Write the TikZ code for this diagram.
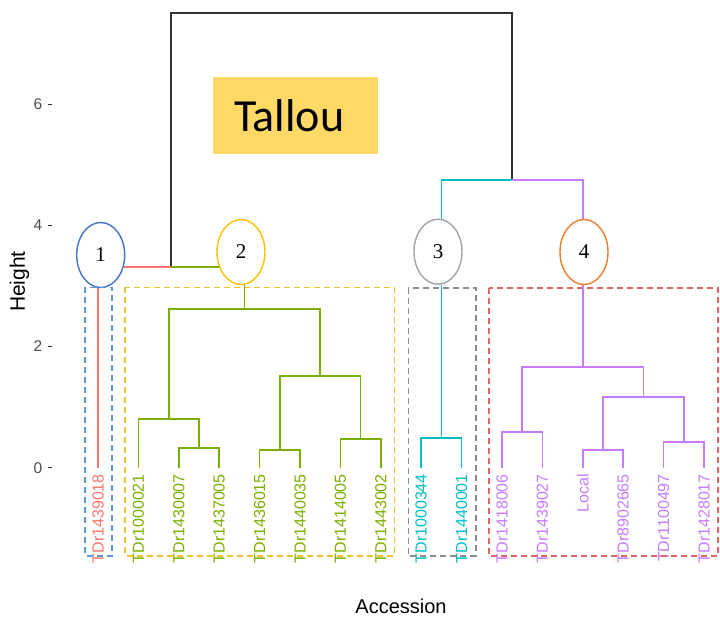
\documentclass[tikz,border=0pt]{standalone}
\usepackage{fontspec}
\setmainfont{Liberation Sans}
\newfontfamily\numfont{Liberation Serif}
\newfontfamily\boxfont{Carlito}
\usepackage{tikz}
\usetikzlibrary{calc,shapes.geometric}
\definecolor{cluA}{HTML}{F8766D}
\definecolor{cluB}{HTML}{7CAE00}
\definecolor{cluC}{HTML}{00BFC4}
\definecolor{cluD}{HTML}{C77CFF}
\definecolor{rootgray}{HTML}{333333}
\definecolor{axisgray}{HTML}{4D4D4D}
\definecolor{ringA}{HTML}{4472C4}
\definecolor{ringB}{HTML}{FFC000}
\definecolor{ringC}{HTML}{A5A5A5}
\definecolor{ringD}{HTML}{ED7D31}
\definecolor{frameA}{HTML}{5B9BD5}
\definecolor{frameB}{HTML}{F2C12E}
\definecolor{frameC}{HTML}{8C8C8C}
\definecolor{frameD}{HTML}{E06666}
\definecolor{tallouyel}{HTML}{FFD966}
\def\clunode{\node[ellipse,draw,text=black,line width=1.4pt,minimum width=48pt,minimum height=65pt,inner sep=0pt,font=\numfont\fontsize{21}{21}\selectfont]}
\def\leafnode{\node[rotate=90,anchor=east,inner xsep=6pt,inner ysep=0pt,font=\fontsize{16}{16}\selectfont]}
\def\drawframe{\draw[line width=1.6pt,dash pattern=on 6pt off 4pt]}
\def\drawbranch{\draw[line width=1.7pt]}

\begin{document}
\begin{tikzpicture}[x=1pt,y=-1pt,
  ticklab/.style={anchor=east,inner sep=0pt,text=axisgray,font=\fontsize{15.5}{15.5}\selectfont},
  tickmark/.style={line width=1.2pt,rootgray}]
\useasboundingbox (0,0) rectangle (720,616);

% title box
\node[fill=tallouyel,minimum width=165pt,minimum height=77.6pt,inner sep=0pt,
  text height=32.5pt,text depth=0pt,font=\boxfont\fontsize{46}{46}\selectfont]
  (tallou) at (295.2,115.5) {Tallou\hspace*{12pt}};

% y axis
\node[ticklab] (h0) at (42.5,467.7) {0};
\node[ticklab] (h2) at (42.5,346.5) {2};
\node[ticklab] (h4) at (42.5,225.3) {4};
\node[ticklab] (h6) at (42.5,104.1) {6};
\draw[tickmark] ([xshift=5pt]h0.east) -- ++(4.5,0);
\draw[tickmark] ([xshift=5pt]h2.east) -- ++(4.5,0);
\draw[tickmark] ([xshift=5pt]h4.east) -- ++(4.5,0);
\draw[tickmark] ([xshift=5pt]h6.east) -- ++(4.5,0);
\node[rotate=90,font=\fontsize{21}{21}\selectfont] (ylab) at (19.5,281.5) {Height};
\node[anchor=base,font=\fontsize{20}{20}\selectfont] (xlab) at (401,613) {Accession};

% leaves
\leafnode (l1) [text=cluA] at (98,468) {TDr1439018};
\leafnode (l2) [text=cluB] at (138.4,468) {TDr1000021};
\leafnode (l3) [text=cluB] at (178.8,468) {TDr1430007};
\leafnode (l4) [text=cluB] at (219.2,468) {TDr1437005};
\leafnode (l5) [text=cluB] at (259.6,468) {TDr1436015};
\leafnode (l6) [text=cluB] at (300,468) {TDr1440035};
\leafnode (l7) [text=cluB] at (340.4,468) {TDr1414005};
\leafnode (l8) [text=cluB] at (380.8,468) {TDr1443002};
\leafnode (l9) [text=cluC] at (421.2,468) {TDr1000344};
\leafnode (l10) [text=cluC] at (461.6,468) {TDr1440001};
\leafnode (l11) [text=cluD] at (502,468) {TDr1418006};
\leafnode (l12) [text=cluD] at (542.4,468) {TDr1439027};
\leafnode (l13) [text=cluD] at (582.8,468) {Local};
\leafnode (l14) [text=cluD] at (623.2,468) {TDr8902665};
\leafnode (l15) [text=cluD] at (663.6,468) {TDr1100497};
\leafnode (l16) [text=cluD] at (704,468) {TDr1428017};

% cluster rings
\clunode[draw=ringA] (c1) at (100.7,255) {1};
\clunode[draw=ringB] (c2) at (241,252) {2};
\clunode[draw=ringC] (c3) at (438,251.7) {3};
\clunode[draw=ringD] (c4) at (584,252) {4};

% group frames
\drawframe[frameA] (85,287.3) rectangle (112,555.7);
\drawframe[frameB] (125,287.3) rectangle (394.3,555.7);
\drawframe[frameC] (408.3,287.7) rectangle (475.7,555.7);
\drawframe[frameD] (488.8,287.7) rectangle (717.7,555.7);

% top of the tree
\coordinate (top1) at (171.25,266.7);
\coordinate (root) at (341.7,13);
\coordinate (top34) at (512.1,180);
\drawbranch[rootgray] (top1) |- (root) -| (top34);
\drawbranch[cluA] (top1) -- ([xshift=-1.5pt]c1.east |- top1);
\drawbranch[cluB] (top1) -- ([xshift=2.5pt]c2.west |- top1);

% cluster 1
\drawbranch[cluA] (l1.east) -- (l1.east |- c1.south);

% cluster 2
\coordinate (g34) at (199,448.3);
\coordinate (g234) at (168.7,419.3);
\coordinate (g56) at (279.8,450);
\coordinate (g78) at (360.6,439.3);
\coordinate (g5to8) at (320.2,375.7);
\coordinate (g2) at (244.5,309.3);
\drawbranch[cluB] (l3.east) |- (g34) -| (l4.east);
\drawbranch[cluB] (l2.east) |- (g234) -| (g34);
\drawbranch[cluB] (l5.east) |- (g56) -| (l6.east);
\drawbranch[cluB] (l7.east) |- (g78) -| (l8.east);
\drawbranch[cluB] (g56) |- (g5to8) -| (g78);
\drawbranch[cluB] (g234) |- (g2) -| (g5to8);
\drawbranch[cluB] (g2) -- (g2 |- c2.south);

% cluster 3
\coordinate (k9) at (441.4,437.7);
\drawbranch[cluC] (l9.east) |- (k9) -| (l10.east);
\drawbranch[cluC] (k9) -- (k9 |- c3.south);
\drawbranch[cluC] (top34) -| (k9 |- c3.north);

% cluster 4
\coordinate (p12) at (522.2,431.7);
\coordinate (p34) at (603,450);
\coordinate (p56) at (683.8,442.3);
\coordinate (p3to6) at (643.4,396.7);
\coordinate (p4) at (582.8,366.7);
\drawbranch[cluD] (l11.east) |- (p12) -| (l12.east);
\drawbranch[cluD] (l13.east) |- (p34) -| (l14.east);
\drawbranch[cluD] (l15.east) |- (p56) -| (l16.east);
\drawbranch[cluD] (p34) |- (p3to6) -| (p56);
\drawbranch[cluD] (p12) |- (p4) -| (p3to6);
\drawbranch[cluD] (p4) -- (p4 |- c4.south);
\drawbranch[cluD] (top34) -| (p4 |- c4.north);
\end{tikzpicture}
\end{document}
